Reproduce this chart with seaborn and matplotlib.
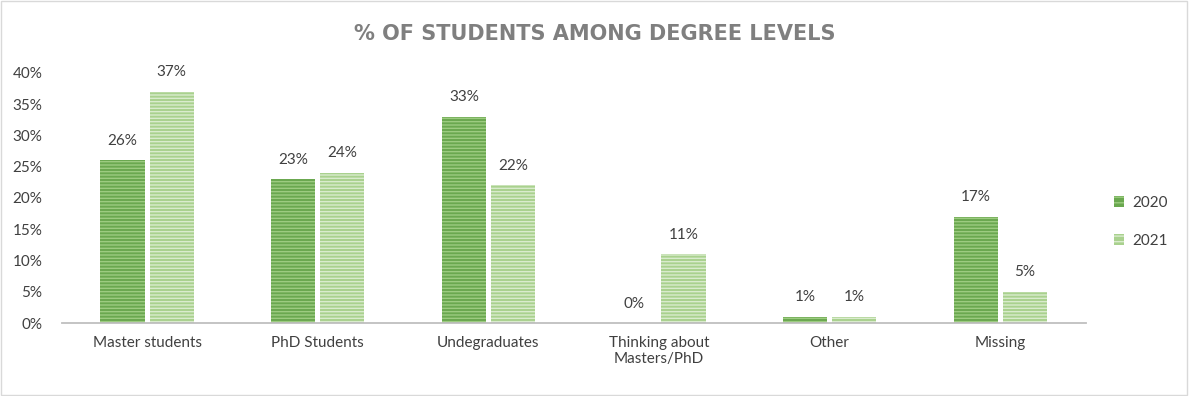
import matplotlib
matplotlib.use("Agg")
import matplotlib.pyplot as plt
import seaborn as sns
import pandas as pd
from matplotlib.patches import Rectangle
from matplotlib.ticker import PercentFormatter

categories = ["Master students", "PhD Students", "Undegraduates",
              "Thinking about\nMasters/PhD", "Other", "Missing"]
years = ["2020", "2021"]
values_2020 = [26, 23, 33, 0, 1, 17]
values_2021 = [37, 24, 22, 11, 1, 5]
yticks = [0, 5, 10, 15, 20, 25, 30, 35, 40]

df = pd.DataFrame({
    "category": categories * 2,
    "year": [years[0]] * len(categories) + [years[1]] * len(categories),
    "value": values_2020 + values_2021,
})

sns.set_theme(style="white")
plt.rcParams["font.family"] = ["Lato", "DejaVu Sans"]
plt.rcParams["hatch.linewidth"] = 1.0

face = {"2020": "#6AA84F", "2021": "#A9D18E"}
stripe = {"2020": "#9CCB80", "2021": "#D9EBCD"}

fig = plt.figure(figsize=(11.89, 3.96), dpi=100)
ax = fig.add_axes([0.052, 0.184, 0.861, 0.632])

sns.barplot(data=df, x="category", y="value", hue="year", palette=face,
            width=0.576, gap=0.1, ax=ax, legend=False, saturation=1)

for cont, yr in zip(ax.containers, years):
    for p in cont:
        p.set_hatch("-----")
        p.set_edgecolor(stripe[yr])
        p.set_linewidth(0)
    ax.bar_label(cont, labels=[f"{v:.0f}%" for v in cont.datavalues],
                 padding=9, color="#404040", fontsize=11)

ax.set_ylim(0, 40)
ax.set_yticks(yticks)
ax.yaxis.set_major_formatter(PercentFormatter(decimals=0))
ax.set_xlim(-0.5, len(categories) - 0.5)
ax.set_xlabel("")
ax.set_ylabel("")
ax.tick_params(axis="both", colors="#404040", labelsize=11, length=0)
ax.tick_params(axis="x", pad=9)
ax.tick_params(axis="y", pad=14)
for s in ["top", "right", "left"]:
    ax.spines[s].set_visible(False)
ax.spines["bottom"].set_color("#BFBFBF")
ax.spines["bottom"].set_linewidth(1.3)

handles = [Rectangle((0, 0), 1, 1, facecolor=face[y], edgecolor=stripe[y],
                     hatch="---", linewidth=0) for y in years]
fig.legend(handles, years, loc="center left", bbox_to_anchor=(0.925, 0.44),
           frameon=False, fontsize=11, handlelength=0.7, handleheight=0.7,
           labelspacing=1.6, handletextpad=0.5, labelcolor="#404040")

fig.text(0.5, 0.915, "% OF STUDENTS AMONG DEGREE LEVELS", ha="center", va="center",
         fontsize=15, fontweight="bold", color="#7F7F7F",
         family=["DejaVu Sans"])

fig.patches.append(Rectangle((0.001, 0.002), 0.997, 0.995, transform=fig.transFigure,
                             fill=False, edgecolor="#D9D9D9", linewidth=1))

fig.savefig("out.png", dpi=100)
